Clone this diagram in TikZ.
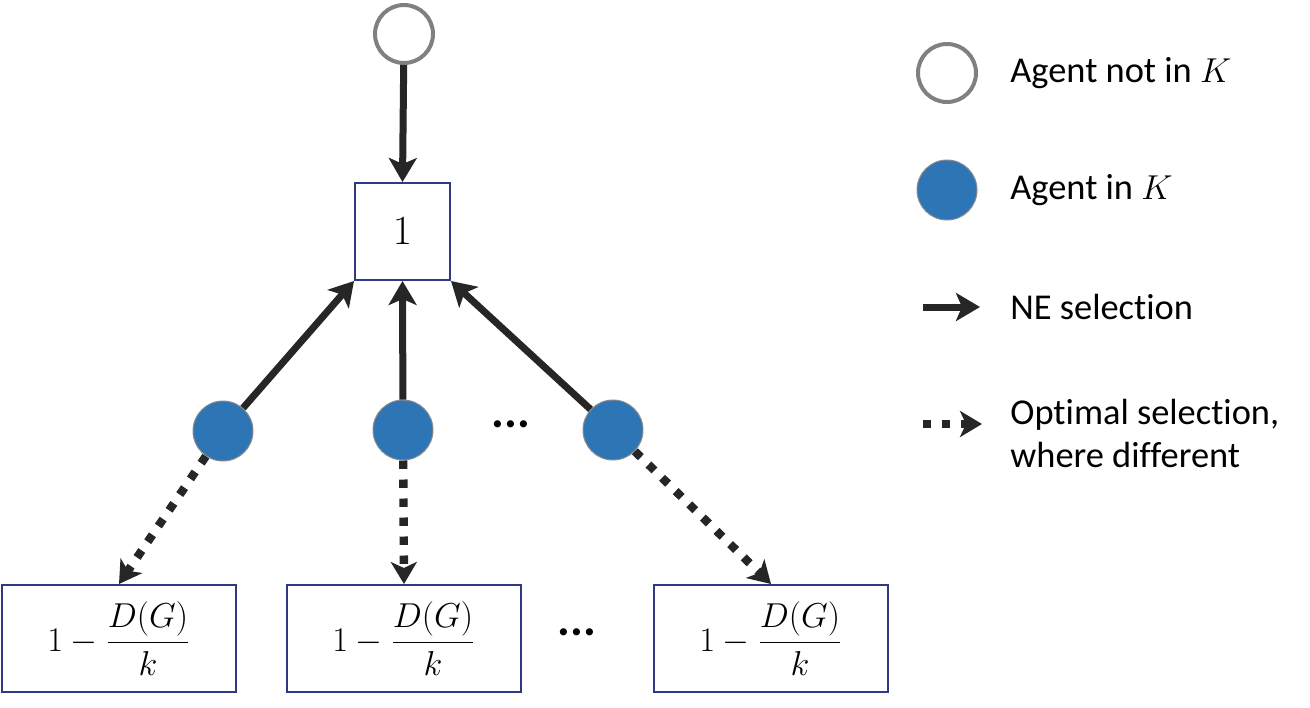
\documentclass[tikz,border=0pt]{standalone}
\usepackage{fontspec}
\setmainfont{Carlito}[Ligatures=NoCommon]
\usetikzlibrary{arrows.meta}
\definecolor{agentblue}{HTML}{2E75B6}
\definecolor{boxblue}{HTML}{2F3A85}
\definecolor{arrowblack}{HTML}{262626}
\begin{document}
\begin{tikzpicture}[x=0.5pt,y=-0.5pt,
  outagent/.style={circle,draw=black!50,line width=2pt,fill=white,minimum size=29pt,inner sep=0pt},
  inagent/.style={circle,draw=black!45,line width=0.5pt,fill=agentblue,minimum size=30pt,inner sep=0pt},
  valbox/.style={draw=boxblue,line width=1pt,fill=white,inner sep=0pt},
  fracbox/.style={valbox,minimum width=117pt,minimum height=53.5pt,font=\fontsize{18.5pt}{21pt}\selectfont},
  nearrow/.style={draw=arrowblack,line width=3.5pt,-{Stealth[length=12pt,width=14pt,inset=3pt]}},
  optarrow/.style={draw=arrowblack,line width=4.2pt,dash pattern=on 4.2pt off 5.3pt,-{Stealth[length=11pt,width=13pt,inset=3pt]}},
  legtext/.style={anchor=west,font=\fontsize{18.2pt}{21.5pt}\selectfont,inner sep=0pt},
  dotstext/.style={font=\fontsize{24pt}{26pt}\selectfont\bfseries,inner sep=0pt}
]
\useasboundingbox (0,0) rectangle (1310,707);
% nodes
\node[outagent] (top) at (404,34) {};
\node[valbox,minimum width=47.5pt,minimum height=48.5pt,font=\fontsize{22pt}{25pt}\selectfont] (one) at (402.5,231.5) {$1$};
\node[inagent] (c1) at (223,431) {};
\node[inagent] (c2) at (403,430) {};
\node[inagent] (c3) at (613,430) {};
\node[dotstext] (d1) at (511,424) {...};
\node[fracbox] (b1) at (119,638.5) {$\displaystyle 1-\frac{D(G)}{k}$};
\node[fracbox] (b2) at (404,638.5) {$\displaystyle 1-\frac{D(G)}{k}$};
\node[fracbox] (b3) at (771,638.5) {$\displaystyle 1-\frac{D(G)}{k}$};
\node[dotstext] (d2) at (577,632) {...};
% connectors
\draw[nearrow] (top) -- (one.north);
\draw[nearrow] (c1) -- (one.south west);
\draw[nearrow] (c2) -- (one.south);
\draw[nearrow] (c3) -- (one.south east);
\draw[optarrow] (c1) -- (b1.north);
\draw[optarrow] (c2) -- (b2.north);
\draw[optarrow] (c3) -- (b3.north);
% legend
\node[outagent] (lg1) at (947,73) {};
\node[legtext] (lt1) at (1010,73) {Agent not in $K$};
\node[inagent] (lg2) at (947,190) {};
\node[legtext] (lt2) at (1010,190) {Agent in $K$};
\coordinate (la1) at (923,307);
\coordinate (lb1) at (980,307);
\draw[nearrow] (la1) -- (lb1);
\node[legtext] (lt3) at (1010,307) {NE selection};
\coordinate (la2) at (923,424);
\coordinate (lb2) at (982,424);
\draw[optarrow] (la2) -- (lb2);
\node[legtext,align=left] (lt4) at (1010,433) {Optimal selection,\\where different};
\end{tikzpicture}
\end{document}
